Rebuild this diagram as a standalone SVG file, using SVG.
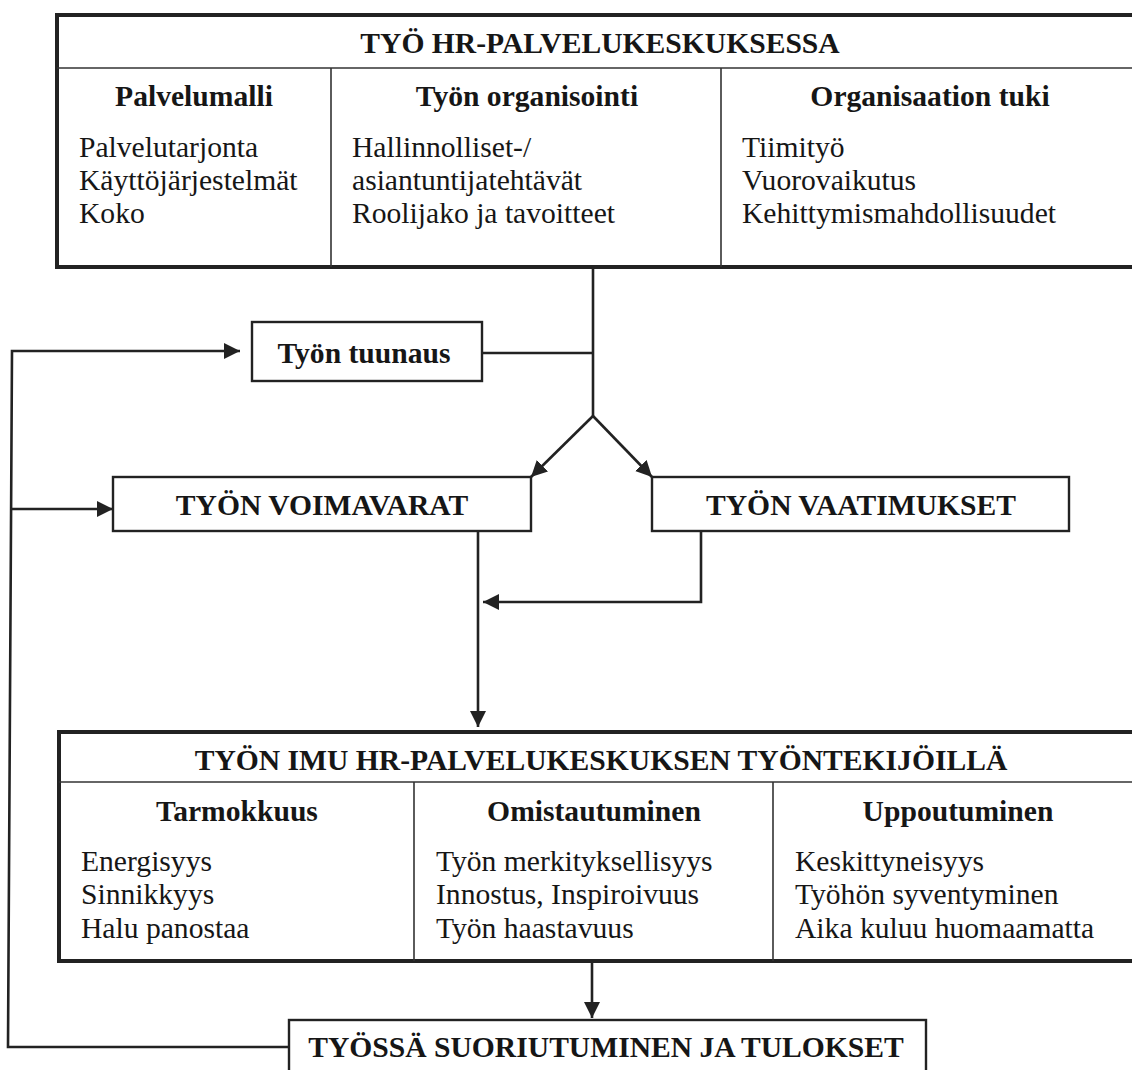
<svg xmlns="http://www.w3.org/2000/svg" width="1132" height="1070" viewBox="0 0 1132 1070">
  <style>
    .frame { fill: #ffffff; stroke: #222222; stroke-width: 4; }
    .box { fill: #ffffff; stroke: #222222; stroke-width: 2.4; }
    .rule { stroke: #333333; stroke-width: 1.6; fill: none; }
    .conn { stroke: #222222; stroke-width: 2.6; fill: none; }
    .t { font-family: "Liberation Serif", "Times New Roman", serif; font-size: 29.6px; fill: #161616; }
    .b { font-weight: bold; }
    .c { text-anchor: middle; }
  </style>
  <defs>
    <marker id="arrow" markerUnits="userSpaceOnUse" markerWidth="17" markerHeight="17" refX="16" refY="8" orient="auto">
      <path d="M0,0 L16,8 L0,16 Z" fill="#222222"/>
    </marker>
  </defs>
  <rect width="1132" height="1070" fill="#ffffff"/>

  <!-- Upper frame: work in the HR service centre -->
  <g id="tyo-hr-palvelukeskuksessa">
    <rect class="frame" x="57" y="15" width="1090" height="252"/>
    <line class="rule" x1="57" y1="68" x2="1147" y2="68"/>
    <line class="rule" x1="331" y1="68" x2="331" y2="267"/>
    <line class="rule" x1="721" y1="68" x2="721" y2="267"/>
    <text class="t b c" x="600" y="53">TYÖ HR-PALVELUKESKUKSESSA</text>
    <text class="t b c" x="194" y="106">Palvelumalli</text>
    <text class="t" x="79" y="157">Palvelutarjonta</text>
    <text class="t" x="79" y="190">Käyttöjärjestelmät</text>
    <text class="t" x="79" y="223">Koko</text>
    <text class="t b c" x="527" y="106">Työn organisointi</text>
    <text class="t" x="352" y="157">Hallinnolliset-/</text>
    <text class="t" x="352" y="190">asiantuntijatehtävät</text>
    <text class="t" x="352" y="223">Roolijako ja tavoitteet</text>
    <text class="t b c" x="930" y="106">Organisaation tuki</text>
    <text class="t" x="742" y="157">Tiimityö</text>
    <text class="t" x="742" y="190">Vuorovaikutus</text>
    <text class="t" x="742" y="223">Kehittymismahdollisuudet</text>
  </g>

  <g id="tyon-tuunaus">
    <rect class="box" x="252" y="322" width="230" height="59"/>
    <text class="t b c" x="364" y="363">Työn tuunaus</text>
  </g>

  <g id="tyon-voimavarat">
    <rect class="box" x="113" y="477" width="418" height="54"/>
    <text class="t b c" x="322" y="515">TYÖN VOIMAVARAT</text>
  </g>

  <g id="tyon-vaatimukset">
    <rect class="box" x="652" y="477" width="417" height="54"/>
    <text class="t b c" x="861" y="515">TYÖN VAATIMUKSET</text>
  </g>

  <!-- Lower frame: work engagement -->
  <g id="tyon-imu">
    <rect class="frame" x="59" y="732" width="1088" height="229"/>
    <line class="rule" x1="59" y1="782" x2="1147" y2="782"/>
    <line class="rule" x1="414" y1="782" x2="414" y2="961"/>
    <line class="rule" x1="773" y1="782" x2="773" y2="961"/>
    <text class="t b c" x="601" y="770">TYÖN IMU HR-PALVELUKESKUKSEN TYÖNTEKIJÖILLÄ</text>
    <text class="t b c" x="237" y="821">Tarmokkuus</text>
    <text class="t" x="81" y="871">Energisyys</text>
    <text class="t" x="81" y="904">Sinnikkyys</text>
    <text class="t" x="81" y="938">Halu panostaa</text>
    <text class="t b c" x="594" y="821">Omistautuminen</text>
    <text class="t" x="436" y="871">Työn merkityksellisyys</text>
    <text class="t" x="436" y="904">Innostus, Inspiroivuus</text>
    <text class="t" x="436" y="938">Työn haastavuus</text>
    <text class="t b c" x="958" y="821">Uppoutuminen</text>
    <text class="t" x="795" y="871">Keskittyneisyys</text>
    <text class="t" x="795" y="904">Työhön syventyminen</text>
    <text class="t" x="795" y="938">Aika kuluu huomaamatta</text>
  </g>

  <g id="tyossa-suoriutuminen">
    <rect class="box" x="289" y="1020" width="637" height="70"/>
    <text class="t b c" x="606" y="1057">TYÖSSÄ SUORIUTUMINEN JA TULOKSET</text>
  </g>

  <g id="connectors">
    <path class="conn" d="M593,267 L593,416"/>
    <path class="conn" d="M482,353 L593,353"/>
    <path class="conn" d="M593,416 L531,477" marker-end="url(#arrow)"/>
    <path class="conn" d="M593,416 L652,477" marker-end="url(#arrow)"/>
    <path class="conn" d="M478,531 L478,727" marker-end="url(#arrow)"/>
    <path class="conn" d="M701,531 L701,602 L483,602" marker-end="url(#arrow)"/>
    <path class="conn" d="M592,962 L592,1018" marker-end="url(#arrow)"/>
    <path class="conn" d="M289,1047 L8,1047 L12,351 L240,351" marker-end="url(#arrow)"/>
    <path class="conn" d="M10,509 L113,509" marker-end="url(#arrow)"/>
  </g>
</svg>
